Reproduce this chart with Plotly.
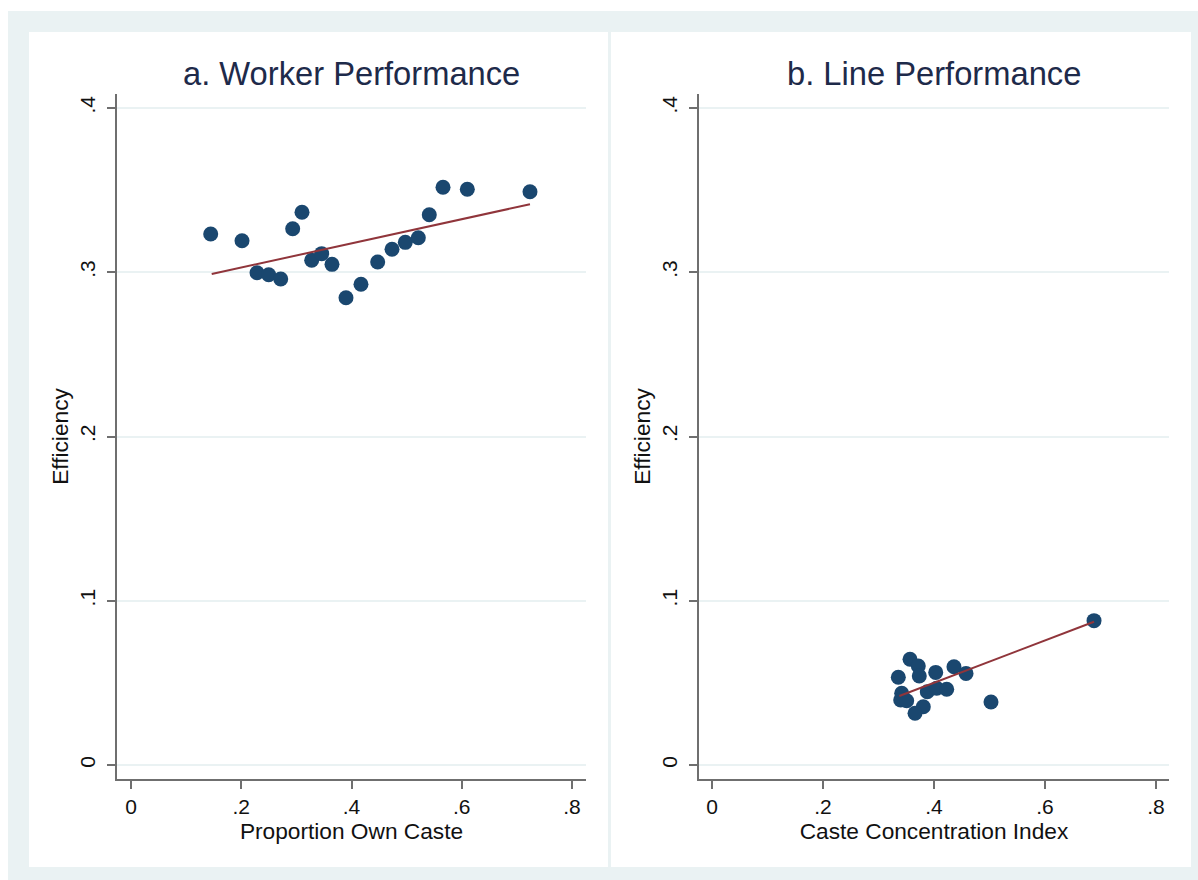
import plotly.graph_objects as go

# ---------------- data ----------------
own_caste_x = [0.1446, 0.2014, 0.2286, 0.2498, 0.2716, 0.2933, 0.3102, 0.3278, 0.3459, 0.3646,
               0.3900, 0.4172, 0.4475, 0.4735, 0.4976, 0.5212, 0.5411, 0.5660, 0.6101, 0.7238]
worker_eff = [0.3233, 0.3192, 0.2997, 0.2985, 0.2959, 0.3265, 0.3365, 0.3073, 0.3113, 0.3048,
              0.2845, 0.2927, 0.3062, 0.3140, 0.3182, 0.3210, 0.3350, 0.3517, 0.3505, 0.3490]
worker_fit_x = [0.1464, 0.7238]
worker_fit_y = [0.2989, 0.3414]

cci_x = [0.6883, 0.3568, 0.3717, 0.3357, 0.3735, 0.4031, 0.4360, 0.4577, 0.3418, 0.3400,
         0.3508, 0.3879, 0.4049, 0.4229, 0.3807, 0.3658, 0.5027]
line_eff = [0.0879, 0.0644, 0.0603, 0.0534, 0.0542, 0.0564, 0.0598, 0.0558, 0.0437, 0.0396,
            0.0391, 0.0446, 0.0467, 0.0461, 0.0355, 0.0315, 0.0384]
line_fit_x = [0.3375, 0.6883]
line_fit_y = [0.0420, 0.0872]

x_ticks = [0, 0.2, 0.4, 0.6, 0.8]
x_tick_labels = ["0", ".2", ".4", ".6", ".8"]
y_ticks = [0, 0.1, 0.2, 0.3, 0.4]
y_tick_labels = ["0", ".1", ".2", ".3", ".4"]

panel_titles = ["a. Worker Performance", "b. Line Performance"]
x_titles = ["Proportion Own Caste", "Caste Concentration Index"]
y_title = "Efficiency"

# ---------------- styling ----------------
W, H = 1198, 880
BG = "#eaf2f3"
NAVY = "#1a476f"
MAROON = "#90353b"
AXIS = "#6f6f6f"
FONT = "Liberation Sans, Arial, sans-serif"


def px(x):
    return x / W


def py(y):
    return 1 - y / H


fig = go.Figure()

fig.add_trace(go.Scatter(x=own_caste_x, y=worker_eff, mode="markers",
                         marker=dict(color=NAVY, size=15, line=dict(width=0)),
                         xaxis="x", yaxis="y", showlegend=False))
fig.add_trace(go.Scatter(x=worker_fit_x, y=worker_fit_y, mode="lines",
                         line=dict(color=MAROON, width=2),
                         xaxis="x", yaxis="y", showlegend=False))
fig.add_trace(go.Scatter(x=cci_x, y=line_eff, mode="markers",
                         marker=dict(color=NAVY, size=15, line=dict(width=0)),
                         xaxis="x2", yaxis="y2", showlegend=False))
fig.add_trace(go.Scatter(x=line_fit_x, y=line_fit_y, mode="lines",
                         line=dict(color=MAROON, width=2),
                         xaxis="x2", yaxis="y2", showlegend=False))

ydom = [py(779), py(94)]
xdom1 = [px(117), px(586)]
xdom2 = [px(699), px(1169)]

common_x = dict(tickmode="array", tickvals=x_ticks, ticktext=x_tick_labels,
                showline=True, linecolor=AXIS, linewidth=2, ticks="outside",
                ticklen=8, tickwidth=1.5, tickcolor=AXIS, showgrid=False,
                zeroline=False, tickfont=dict(size=21, color="#111111", family=FONT),
                title_font=dict(size=22.7, color="#111111", family=FONT),
                title_standoff=4, fixedrange=True)
common_y = dict(tickmode="array", tickvals=y_ticks, ticktext=y_tick_labels,
                showline=True, linecolor=AXIS, linewidth=2, ticks="outside",
                ticklen=8, tickwidth=1.5, tickcolor=AXIS, showgrid=True,
                gridcolor=BG, gridwidth=1.5, zeroline=False, tickangle=-90,
                ticklabelstandoff=4,
                tickfont=dict(size=21, color="#111111", family=FONT),
                title_font=dict(size=22.7, color="#111111", family=FONT),
                range=[-0.0085, 0.4085], domain=ydom, fixedrange=True)

fig.update_layout(
    width=W, height=H,
    margin=dict(l=0, r=0, t=0, b=0),
    paper_bgcolor="white", plot_bgcolor="white",
    font=dict(family=FONT),
    xaxis=dict(common_x, domain=xdom1, range=[-0.0254, 0.8254],
               title_text=x_titles[0], anchor="y"),
    yaxis=dict(common_y, anchor="x", title_text=y_title, title_standoff=1),
    xaxis2=dict(common_x, domain=xdom2, range=[-0.0234, 0.8234],
                title_text=x_titles[1], anchor="y2"),
    yaxis2=dict(common_y, anchor="x2", title_text=y_title, title_standoff=1),
)

shapes = [
    dict(type="rect", xref="paper", yref="paper", x0=px(8), x1=px(W), y0=py(H), y1=py(11),
         fillcolor=BG, line=dict(width=0), layer="below"),
    dict(type="rect", xref="paper", yref="paper", x0=px(29), x1=px(608), y0=py(867), y1=py(32),
         fillcolor="white", line=dict(width=0), layer="below"),
    dict(type="rect", xref="paper", yref="paper", x0=px(611), x1=px(1191), y0=py(867), y1=py(32),
         fillcolor="white", line=dict(width=0), layer="below"),
]
fig.update_layout(shapes=shapes)

for title, cx in zip(panel_titles, [351.5, 934]):
    fig.add_annotation(text=title, x=px(cx), y=py(73), xref="paper", yref="paper",
                       showarrow=False, xanchor="center", yanchor="middle",
                       font=dict(size=32.7, color="#1e2a4a", family=FONT))

fig.write_html("out.html", config={"displayModeBar": False},
               post_script="document.body.style.margin='0';document.body.style.overflow='hidden';")
